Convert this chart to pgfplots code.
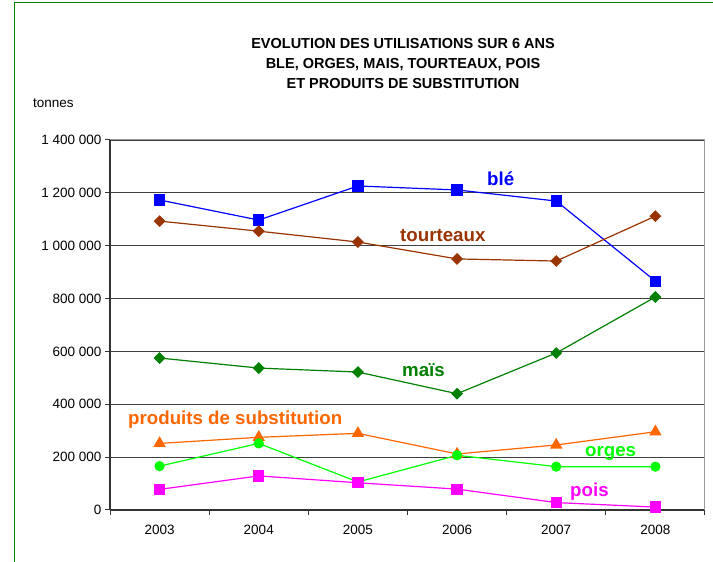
\documentclass[border=0pt]{standalone}
\usepackage{pgfplots}
\pgfplotsset{compat=1.18}
\usepackage{fontspec}
\setmainfont{Liberation Sans}
\definecolor{cble}{RGB}{0,0,255}
\definecolor{ctour}{RGB}{153,51,0}
\definecolor{cmais}{RGB}{0,128,0}
\definecolor{cprod}{RGB}{255,102,0}
\definecolor{corge}{RGB}{0,255,0}
\definecolor{cpois}{RGB}{255,0,255}
\definecolor{cframe}{RGB}{0,128,0}
\begin{document}
\begin{tikzpicture}[x=1pt,y=1pt]
\useasboundingbox (0,0) rectangle (713,562);
\draw[cframe, line width=1pt] (14.5,0) -- (14.5,559.5) -- (713,559.5);
\node[font=\bfseries\fontsize{14.5}{17}\selectfont, anchor=base] at (403,513.7) {EVOLUTION DES UTILISATIONS SUR 6 ANS};
\node[font=\bfseries\fontsize{14.5}{17}\selectfont, anchor=base] at (403,493.7) {BLE, ORGES, MAIS, TOURTEAUX, POIS};
\node[font=\bfseries\fontsize{14.5}{17}\selectfont, anchor=base] at (403,473.7) {ET PRODUITS DE SUBSTITUTION};
\node[font=\fontsize{13.5}{16}\selectfont, anchor=base west, inner sep=0pt] at (33,454) {tonnes};
\begin{axis}[at={(110pt,52pt)}, anchor=south west, scale only axis,
  width=595pt, height=370pt,
  xmin=-0.5, xmax=5.5, ymin=0, ymax=1400000,
  axis x line*=bottom, axis y line*=left,
  axis line style={line width=1.2pt, color=black!80},
  xtick={0,...,5}, xticklabels={2003,2004,2005,2006,2007,2008},
  xtick style={draw=none},
  xticklabel style={yshift=-7pt},
  ytick={0,200000,...,1400000},
  yticklabels={0,200 000,400 000,600 000,800 000,1 000 000,1 200 000,1 400 000},
  scaled y ticks=false,
  tick align=outside, major tick length=5pt,
  ytick style={draw=black!80, line width=1pt},
  ymajorgrids, grid style={color=black!75, line width=0.8pt},
  ticklabel style={font=\fontsize{13.5}{16}\selectfont},
  clip=false,
]
\draw[black!40, line width=1pt] (rel axis cs:0,1) -- (rel axis cs:1,1) -- (rel axis cs:1,0);
\pgfplotsinvokeforeach{-0.5,0.5,1.5,2.5,3.5,4.5,5.5}{
  \draw[black!80, line width=1pt] (axis cs:#1,0) -- ([yshift=-5pt]axis cs:#1,0);
}
\addplot[cble, line width=1.2pt, mark=square*, mark size=5pt, mark options={solid}] coordinates {
(0,1173000) (1,1097000) (2,1226000) (3,1211000) (4,1169000) (5,866000)};
\addplot[ctour, line width=1.2pt, mark=square*, mark size=3.6pt, mark options={solid, rotate=45}] coordinates {
(0,1093000) (1,1055000) (2,1014000) (3,950000) (4,942000) (5,1112000)};
\addplot[cmais, line width=1.2pt, mark=square*, mark size=3.6pt, mark options={solid, rotate=45}] coordinates {
(0,575000) (1,537000) (2,522000) (3,440000) (4,594000) (5,806000)};
\addplot[cprod, line width=1.2pt, mark=triangle*, mark size=6pt, mark options={solid}] coordinates {
(0,252000) (1,275000) (2,290000) (3,212000) (4,246000) (5,296000)};
\addplot[corge, line width=1.2pt, mark=*, mark size=4.5pt, mark options={solid}] coordinates {
(0,166000) (1,252000) (2,106000) (3,207000) (4,164000) (5,164000)};
\addplot[cpois, line width=1.2pt, mark=square*, mark size=5pt, mark options={solid}] coordinates {
(0,78000) (1,129000) (2,103000) (3,79000) (4,28000) (5,11000)};
\end{axis}
\begin{scope}[every node/.style={font=\bfseries\fontsize{18.7}{22}\selectfont, anchor=base west, inner sep=0pt}]
\node[text=cble] at (487,376) {blé};
\node[text=ctour] at (400,320) {tourteaux};
\node[text=cmais] at (402,185) {maïs};
\node[text=cprod] at (128,137) {produits de substitution};
\node[text=corge] at (585,105) {orges};
\node[text=cpois] at (570,65) {pois};
\end{scope}
\end{tikzpicture}
\end{document}
